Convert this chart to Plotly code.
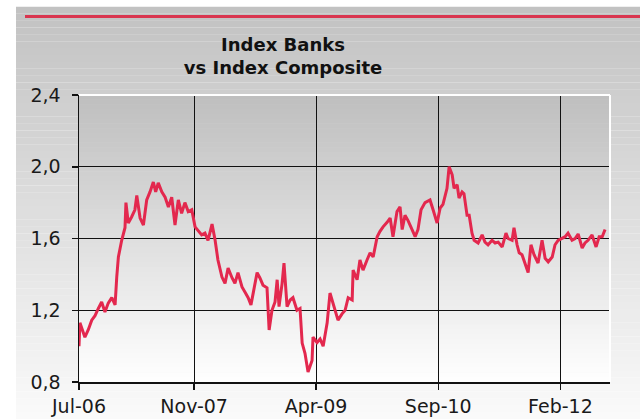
import plotly.graph_objects as go

# ---- data ----
dates = [
    "2006-07-01", "2006-07-05", "2006-07-26", "2006-08-09", "2006-08-24", "2006-09-07",
    "2006-09-21", "2006-10-05", "2006-10-19", "2006-11-02", "2006-11-17", "2006-12-01",
    "2006-12-08", "2006-12-15", "2006-12-29", "2007-01-12", "2007-01-16", "2007-01-26",
    "2007-02-09", "2007-02-23", "2007-03-03", "2007-03-17", "2007-03-31", "2007-04-14",
    "2007-04-28", "2007-05-12", "2007-05-22", "2007-06-02", "2007-06-17", "2007-07-01",
    "2007-07-15", "2007-07-29", "2007-08-12", "2007-08-26", "2007-09-09", "2007-09-23",
    "2007-10-07", "2007-10-22", "2007-11-05", "2007-11-19", "2007-12-03", "2007-12-17",
    "2007-12-30", "2008-01-16", "2008-01-29", "2008-02-10", "2008-02-27", "2008-03-11",
    "2008-03-24", "2008-04-10", "2008-04-22", "2008-05-05", "2008-05-22", "2008-06-04",
    "2008-06-17", "2008-06-29", "2008-07-08", "2008-07-25", "2008-08-06", "2008-08-19",
    "2008-09-05", "2008-09-14", "2008-09-26", "2008-10-09", "2008-10-18", "2008-10-26",
    "2008-11-08", "2008-11-16", "2008-11-29", "2008-12-12", "2008-12-24", "2009-01-10",
    "2009-01-23", "2009-02-01", "2009-02-13", "2009-02-26", "2009-03-15", "2009-03-19",
    "2009-04-05", "2009-04-18", "2009-05-01", "2009-05-18", "2009-05-30", "2009-06-20",
    "2009-07-03", "2009-07-20", "2009-08-02", "2009-08-15", "2009-09-01", "2009-09-05",
    "2009-09-22", "2009-10-04", "2009-10-17", "2009-11-03", "2009-11-16", "2009-11-29",
    "2009-12-16", "2009-12-28", "2010-01-10", "2010-01-27", "2010-02-09", "2010-02-21",
    "2010-03-10", "2010-03-23", "2010-04-01", "2010-04-13", "2010-04-26", "2010-05-13",
    "2010-05-26", "2010-06-07", "2010-06-20", "2010-07-07", "2010-07-28", "2010-08-10",
    "2010-08-27", "2010-09-09", "2010-09-21", "2010-10-08", "2010-10-17", "2010-10-30",
    "2010-11-07", "2010-11-20", "2010-11-28", "2010-12-11", "2010-12-19", "2011-01-01",
    "2011-01-10", "2011-01-22", "2011-01-31", "2011-02-17", "2011-03-06", "2011-03-18",
    "2011-03-31", "2011-04-17", "2011-04-30", "2011-05-13", "2011-05-30", "2011-06-15",
    "2011-06-24", "2011-07-11", "2011-07-19", "2011-08-01", "2011-08-10", "2011-08-22",
    "2011-09-04", "2011-09-17", "2011-09-29", "2011-10-12", "2011-10-29", "2011-11-15",
    "2011-11-28", "2011-12-11", "2011-12-28", "2012-01-09", "2012-01-22", "2012-02-08",
    "2012-02-21", "2012-03-04", "2012-03-21", "2012-04-03", "2012-04-16", "2012-05-03",
    "2012-05-15", "2012-05-28", "2012-06-14", "2012-07-01", "2012-07-14", "2012-07-27",
    "2012-08-08",
]

banks_vs_composite = [
    1.00, 1.13, 1.05, 1.09, 1.145, 1.17,
    1.21, 1.246, 1.19, 1.24, 1.27, 1.23,
    1.385, 1.497, 1.59, 1.66, 1.80, 1.686,
    1.72, 1.76, 1.84, 1.714, 1.675, 1.815,
    1.86, 1.915, 1.86, 1.91, 1.86, 1.83,
    1.776, 1.83, 1.675, 1.815, 1.74, 1.80,
    1.75, 1.76, 1.665, 1.64, 1.62, 1.63,
    1.59, 1.68, 1.59, 1.48, 1.385, 1.35,
    1.435, 1.38, 1.35, 1.41, 1.33, 1.30,
    1.27, 1.23, 1.295, 1.41, 1.38, 1.34,
    1.325, 1.09, 1.20, 1.246, 1.37, 1.22,
    1.35, 1.463, 1.22, 1.257, 1.27, 1.20,
    1.21, 1.017, 0.96, 0.856, 0.92, 1.05,
    1.02, 1.04, 1.00, 1.13, 1.296, 1.20,
    1.145, 1.18, 1.20, 1.27, 1.257, 1.424,
    1.37, 1.48, 1.424, 1.48, 1.52, 1.497,
    1.61, 1.64, 1.665, 1.69, 1.714, 1.61,
    1.75, 1.776, 1.65, 1.73, 1.70, 1.65,
    1.61, 1.65, 1.76, 1.80, 1.815, 1.76,
    1.686, 1.77, 1.79, 1.88, 2.00, 1.955,
    1.88, 1.90, 1.826, 1.86, 1.85, 1.73,
    1.73, 1.63, 1.59, 1.575, 1.62, 1.58,
    1.565, 1.59, 1.575, 1.58, 1.553, 1.63,
    1.60, 1.59, 1.66, 1.565, 1.52, 1.51,
    1.463, 1.41, 1.565, 1.51, 1.463, 1.59,
    1.49, 1.47, 1.497, 1.565, 1.59, 1.60,
    1.61, 1.63, 1.59, 1.60, 1.625, 1.547,
    1.575, 1.59, 1.62, 1.553, 1.61, 1.61,
    1.65,
]

x_tick_dates = ["2006-07-01", "2007-11-01", "2009-04-01", "2010-09-01", "2012-02-01"]
x_tick_labels = ["Jul-06", "Nov-07", "Apr-09", "Sep-10", "Feb-12"]
y_tick_values = [0.8, 1.2, 1.6, 2.0, 2.4]

title_text = "<b>Index Banks<br>vs Index Composite</b>"

# ---- layout geometry ----
W, H = 640, 419
L, R, T, B = 79, 30, 95, 37
pw, ph = W - L - R, H - T - B


def px_to_paper_x(px):
    return (px - L) / pw


def py_to_paper_y(py):
    return (H - B - py) / ph


def grey(v):
    v = int(round(v))
    return f"rgb({v},{v},{v})"


shapes = []
# outer grey gradient panel
n = 60
top_py, bot_py = 7, 419
for i in range(n):
    y0 = top_py + (bot_py - top_py) * i / n
    y1 = top_py + (bot_py - top_py) * (i + 1) / n
    c = 194 + (250 - 194) * (i + 0.5) / n
    shapes.append(dict(type="rect", xref="paper", yref="paper",
                       x0=px_to_paper_x(16), x1=px_to_paper_x(641),
                       y0=py_to_paper_y(y1), y1=py_to_paper_y(y0) + 0.0005,
                       fillcolor=grey(c), line=dict(width=0), layer="below"))
# inner plot-area gradient
for i in range(n):
    y0 = i / n
    y1 = (i + 1) / n
    c = 190 + (255 - 190) * (i + 0.5) / n
    shapes.append(dict(type="rect", xref="paper", yref="paper",
                       x0=0, x1=1, y0=1 - y1, y1=1 - y0 + 0.001,
                       fillcolor=grey(c), line=dict(width=0), layer="below"))
# red rule at the top
shapes.append(dict(type="line", xref="paper", yref="paper",
                   x0=px_to_paper_x(25), x1=px_to_paper_x(641),
                   y0=py_to_paper_y(16.5), y1=py_to_paper_y(16.5),
                   line=dict(color="#d9354f", width=3), layer="below"))
# white frame on top and right of plot area
shapes.append(dict(type="line", xref="paper", yref="paper", x0=0, x1=1, y0=1, y1=1,
                   line=dict(color="white", width=2), layer="above"))
shapes.append(dict(type="line", xref="paper", yref="paper", x0=1, x1=1, y0=0, y1=1,
                   line=dict(color="white", width=2), layer="above"))

fig = go.Figure()
fig.add_trace(go.Scatter(
    x=dates, y=banks_vs_composite, mode="lines",
    line=dict(color="#e3284e", width=3),
    showlegend=False, hoverinfo="skip",
))

tick_font = dict(family="DejaVu Sans", size=19, color="#1a1a1a")

fig.update_layout(
    width=W, height=H,
    margin=dict(l=L, r=R, t=T, b=B, pad=0, autoexpand=False),
    paper_bgcolor="white",
    plot_bgcolor="rgba(0,0,0,0)",
    separators=",.",
    shapes=shapes,
    title=dict(text=title_text, x=283 / W, xref="container", xanchor="center",
               y=1 - 51 / H, yref="container", yanchor="top",
               font=dict(family="DejaVu Sans", size=18, color="#111111")),
    xaxis=dict(
        type="date", range=["2006-07-01", "2012-08-29"],
        tickmode="array", tickvals=x_tick_dates, ticktext=x_tick_labels,
        showgrid=True, gridcolor="#111111", gridwidth=1,
        showline=True, linecolor="#111111", linewidth=1.5,
        ticks="outside", ticklen=6, tickcolor="#111111", tickwidth=1.5,
        tickfont=tick_font, zeroline=False, fixedrange=True,
        ticklabelstandoff=1, automargin=False,
    ),
    yaxis=dict(
        range=[0.8, 2.4], tickmode="array", tickvals=y_tick_values,
        tickformat=".1f",
        showgrid=True, gridcolor="#111111", gridwidth=1,
        showline=True, linecolor="#111111", linewidth=1.5,
        ticks="outside", ticklen=6, tickcolor="#111111", tickwidth=1.5,
        tickfont=tick_font, zeroline=False, fixedrange=True,
        ticklabelstandoff=7, automargin=False,
    ),
)

fig.write_html(
    "out.html",
    config={"displayModeBar": False, "staticPlot": True},
    post_script="document.body.style.margin='0';document.body.style.overflow='hidden';",
)
